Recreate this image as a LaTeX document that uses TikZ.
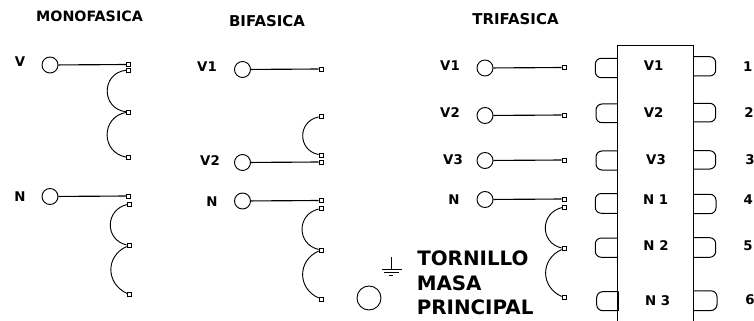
\documentclass[tikz,border=0pt]{standalone}
\usepackage{fontspec}
\setmainfont{DejaVu Sans}
\tikzset{
  term/.style={circle,draw,line width=0.7pt,minimum size=12pt,inner sep=0pt},
  pad/.style={rectangle,draw,line width=0.6pt,minimum size=3pt,inner sep=0pt},
  wire/.style={line width=0.85pt},
  coil/.style n args={3}{line width=0.7pt,out=#1,in=#2,distance=#3},
  tabline/.style={line width=0.75pt,rounded corners=4.5pt},
  body/.style={line width=0.8pt},
  lab/.style={font=\bfseries\fontsize{10}{12}\selectfont,inner sep=0pt,anchor=center},
  ttl/.style={font=\bfseries\fontsize{#1}{13}\selectfont,inner sep=0pt,anchor=center},
  big/.style={font=\bfseries\fontsize{14.9}{17}\selectfont,inner sep=0pt,anchor=west}
}
\begin{document}
\begin{tikzpicture}[x=0.75pt,y=0.75pt]
\useasboundingbox (0,0) rectangle (754,-321);
% titles
\node[ttl=10.7] (t1) at (89.5,-16) {MONOFASICA};
\node[ttl=11.2] (t2) at (267,-21) {BIFASICA};
\node[ttl=11.2] (t3) at (515.5,-19) {TRIFASICA};
% monofasica
\node[lab] (lv) at (20,-62) {V};
\node[term] (cv) at (50,-65) {};
\node[pad] (a1) at (128.5,-64.5) {};
\node[pad] (a2) at (128.5,-70) {};
\node[pad] (a3) at (128.5,-112) {};
\node[pad] (a4) at (128.5,-157.5) {};
\draw[wire] (cv) -- (a1);
\draw[coil={186}{174}{19pt}] (a2) to (a3);
\draw[coil={190}{170}{19.3pt}] (a3) to (a4);
\node[lab] (ln) at (20,-197) {N};
\node[term] (cn) at (50,-196.5) {};
\node[pad] (b1) at (128.5,-196) {};
\node[pad] (b2) at (129.5,-204) {};
\node[pad] (b3) at (129,-245.5) {};
\node[pad] (b4) at (129.5,-294.5) {};
\draw[wire] (cn) -- (b1);
\draw[coil={193}{167}{17pt}] (b2) to (b3);
\draw[coil={204}{156}{17.5pt}] (b3) to (b4);
% bifasica
\node[lab] (l21) at (207,-67) {V1};
\node[term] (c21) at (242.5,-69.5) {};
\node[pad] (c1) at (321,-69) {};
\draw[wire] (c21) -- (c1);
\node[pad] (c2) at (321,-116.5) {};
\node[pad] (c3) at (321,-155) {};
\node[pad] (c4) at (321,-162) {};
\draw[coil={191}{169}{16.2pt}] (c2) to (c3);
\node[lab] (l22) at (210,-161) {V2};
\node[term] (c22) at (242.5,-162.5) {};
\draw[wire] (c22) -- (c4);
\node[lab] (l2n) at (212,-202) {N};
\node[term] (c2n) at (242.5,-201) {};
\node[pad] (d1) at (321,-200.5) {};
\node[pad] (d2) at (321,-208.5) {};
\node[pad] (d3) at (321,-250) {};
\node[pad] (d4) at (321,-299) {};
\draw[wire] (c2n) -- (d1);
\draw[coil={193}{167}{17pt}] (d2) to (d3);
\draw[coil={204}{156}{17.5pt}] (d3) to (d4);
% trifasica
\node[lab] (l31) at (450,-66) {V1};
\node[term] (c31) at (485,-68) {};
\node[pad] (e1) at (564,-67.5) {};
\draw[wire] (c31) -- (e1);
\node[lab] (l32) at (450,-113) {V2};
\node[term] (c32) at (485,-115.5) {};
\node[pad] (e2) at (564,-115) {};
\draw[wire] (c32) -- (e2);
\node[lab] (l33) at (453,-160) {V3};
\node[term] (c33) at (485,-160.5) {};
\node[pad] (e3) at (564,-160) {};
\draw[wire] (c33) -- (e3);
\node[lab] (l3n) at (454,-200) {N};
\node[term] (c3n) at (485,-199.5) {};
\node[pad] (f1) at (564,-199) {};
\node[pad] (f2) at (564.5,-207) {};
\node[pad] (f3) at (564,-248.5) {};
\node[pad] (f4) at (564,-297.5) {};
\draw[wire] (c3n) -- (f1);
\draw[coil={193}{167}{17pt}] (f2) to (f3);
\draw[coil={204}{156}{17.5pt}] (f3) to (f4);
% ground
\draw[line width=0.7pt] (391,-257) -- (391,-269);
\draw[line width=0.7pt] (382,-269) -- (402,-269);
\draw[line width=0.7pt] (384,-272.7) -- (399,-272.7);
\draw[line width=0.7pt] (389,-275.5) -- (393,-275.5);
\node[term,minimum size=18pt] (gnd) at (369,-298) {};
\node[big] (g1) at (417,-258) {TORNILLO};
\node[big] (g2) at (416.5,-283) {MASA};
\node[big] (g3) at (416.5,-307.5) {PRINCIPAL};
% connector block
\draw[body] (617.7,-321) -- (617.7,-45.7) -- (693.7,-45.7) -- (693.7,-321);
\draw[tabline] (617.7,-58.3) -- (595.3,-58.3) -- (595.3,-77.7) -- (617.7,-77.7);
\draw[tabline] (617.7,-104) -- (596,-104) -- (596,-122.7) -- (617.7,-122.7);
\draw[tabline] (617.7,-151) -- (596,-151) -- (596,-170) -- (617.7,-170);
\draw[tabline] (617.7,-193.5) -- (595.3,-193.5) -- (595.3,-213.3) -- (617.7,-213.3);
\draw[tabline] (617.7,-238) -- (595.3,-238) -- (595.3,-257.3) -- (617.7,-257.3);
\draw[tabline] (618.7,-291.7) -- (596.7,-291.7) -- (596.7,-310.7) -- (618.7,-310.7);
\draw[body] (618.7,-291.7) -- (618.7,-310.7);
\draw[tabline] (693.7,-56.7) -- (715.7,-56.7) -- (715.7,-76) -- (693.7,-76);
\draw[tabline] (693.7,-103.3) -- (715.7,-103.3) -- (715.7,-122) -- (693.7,-122);
\draw[tabline] (693.7,-150.7) -- (715.7,-150.7) -- (715.7,-169) -- (693.7,-169);
\draw[tabline] (693.7,-194.3) -- (716,-194.3) -- (716,-213.7) -- (693.7,-213.7);
\draw[tabline] (693.7,-237.7) -- (715.7,-237.7) -- (715.7,-257.3) -- (693.7,-257.3);
\draw[tabline] (693.7,-290.8) -- (717,-290.8) -- (717,-310.5) -- (693.7,-310.5);
% pin names
\node[lab] (p1) at (653.7,-66) {V1};
\node[lab] (p2) at (653.7,-113) {V2};
\node[lab] (p3) at (656,-160) {V3};
\node[lab] (p4) at (655.7,-200) {N 1};
\node[lab] (p5) at (656,-246) {N 2};
\node[lab] (p6) at (657.7,-301) {N 3};
\node[lab] (n1) at (747.7,-66.7) {1};
\node[lab] (n2) at (749,-113) {2};
\node[lab] (n3) at (750,-160) {3};
\node[lab] (n4) at (748.3,-200) {4};
\node[lab] (n5) at (748,-246) {5};
\node[lab] (n6) at (750,-300) {6};
\end{tikzpicture}
\end{document}
